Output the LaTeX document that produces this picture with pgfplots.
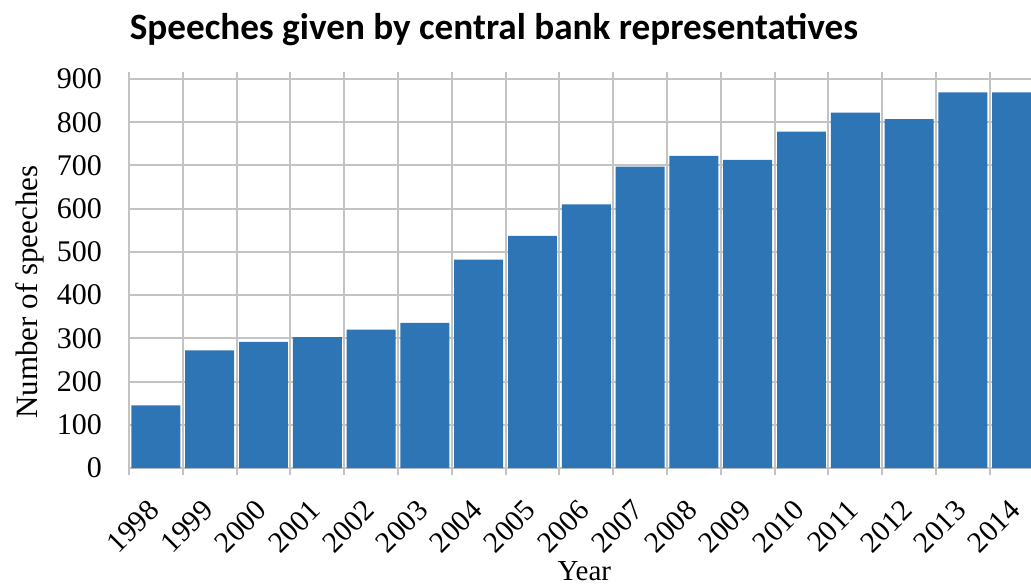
\documentclass[border=0pt]{standalone}
\usepackage{fontspec}
\setmainfont{Liberation Serif}
\newfontfamily\titlefont{Carlito}
\usepackage{pgfplots}
\pgfplotsset{compat=1.18}
\definecolor{barblue}{RGB}{46,117,182}
\definecolor{gridgray}{RGB}{195,195,195}

\begin{document}
\begin{tikzpicture}
\begin{axis}[
    scale only axis,
    width=457.3pt, height=194.5pt,
    xmin=-0.5, xmax=16.5,
    ymin=0, ymax=900,
    axis line style={draw=none},
    xtick={0,...,16},
    xticklabels={1998,1999,2000,2001,2002,2003,2004,2005,2006,2007,2008,2009,2010,2011,2012,2013,2014},
    minor xtick={-0.5,0.5,...,16.5},
    ytick={0,100,...,900},
    ymajorgrids, xminorgrids,
    grid style={gridgray, line width=1pt},
    minor grid style={gridgray, line width=1pt},
    tick align=outside,
    major tick length=0pt,
    minor tick length=3.5pt,
    minor tick style={gridgray, line width=1pt},
    /pgf/number format/assume math mode=true,
    xticklabel style={font=\fontsize{14.8}{16}\selectfont, yshift=-15pt, xshift=-4.5pt, rotate=45, anchor=north east, inner sep=0pt},
    yticklabel style={font=\fontsize{15}{17}\selectfont, xshift=-10pt},
]
\addplot[ybar, bar width=0.91, bar shift=0pt, fill=barblue, draw=none] coordinates {
    (0,145) (1,272) (2,292) (3,303) (4,320) (5,336) (6,482) (7,537) (8,610)
    (9,697) (10,722) (11,713) (12,778) (13,822) (14,807) (15,869) (16,869)
};
\end{axis}
\node[anchor=base, font=\titlefont\bfseries\fontsize{18.6}{22}\selectfont] at (182.5pt,214pt) {Speeches given by central bank representatives};
\node[anchor=base, rotate=90, font=\fontsize{15.5}{17}\selectfont] at (-46pt,88pt) {Number of speeches};
\node[anchor=base, font=\fontsize{14.5}{16}\selectfont] at (227.7pt,-56.3pt) {Year};
\pgfresetboundingbox
\path[use as bounding box] (-64.5pt,-57.5pt) rectangle (451pt,234pt);
\end{tikzpicture}
\end{document}
